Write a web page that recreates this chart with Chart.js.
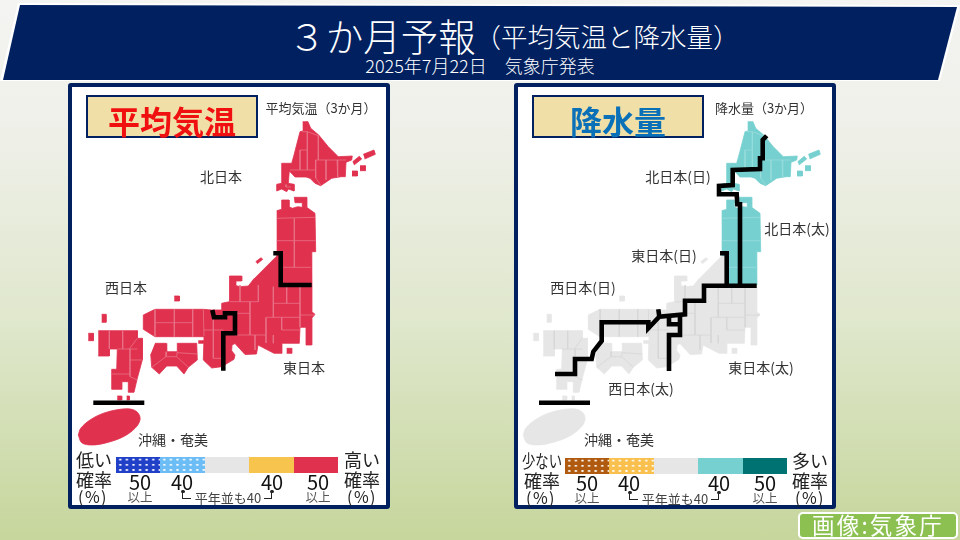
<!DOCTYPE html>
<html lang="ja"><head><meta charset="utf-8">
<script src="https://cdn.jsdelivr.net/npm/chart.js@4/dist/chart.umd.js"></script>
<style>
html,body{margin:0;padding:0;width:960px;height:540px;overflow:hidden}
body{position:relative;background:linear-gradient(180deg,#f4f4f2 0%,#eef0e8 25%,#dfe7cc 60%,#c6d69c 100%);font-family:"Noto Sans CJK JP","Noto Sans",sans-serif}
#banner,#bannerIn{position:absolute}
#banner{left:0;top:3px;width:960px;height:80px;background:#fff;clip-path:polygon(18px 0,960px 2px,940px 78px,0 78px)}
#bannerIn{left:0;top:5px;width:960px;height:76px;background:#002060;clip-path:polygon(20px 0,957px 2px,938px 75px,3px 75px)}
.panel{position:absolute;top:83px;width:314px;height:418px;background:#fff;border:4px solid #002060;border-radius:3px}
.head{position:absolute;top:95px;width:168px;height:39px;background:#f0e0a8;border:2px solid #002060}
canvas{position:absolute;top:84px}
.t{position:absolute;white-space:nowrap;transform:translate(-50%,-50%);line-height:1;color:#333}
.seg{position:absolute}
.dots{background-size:6.6px 5.2px;background-position:1px 0}
.arr{position:absolute;border-bottom:1.5px solid #222}
.dot{position:absolute;width:3.5px;height:3.5px;border-radius:50%;background:#222}
#credit{position:absolute;left:798px;top:512px;width:156px;height:23px;background:#8cc152;border:2px solid #fff;border-radius:5px}
</style></head><body>
<div id="banner"></div><div id="bannerIn"></div>
<div class="panel" style="left:68px"></div>
<div class="panel" style="left:514px"></div>
<div class="head" style="left:86px"></div>
<div class="head" style="left:532px"></div>
<canvas id="tempMap" width="322" height="424" style="left:68px"></canvas>
<canvas id="rainMap" width="322" height="424" style="left:513px"></canvas>
<div id="credit"></div>
<script>
// Map outlines, in map units
const hokkaido=[[302.7,121.7],[308,121.7],[310.7,128.3],[318.7,135],[328.3,146.7],[338.3,156.7],[352.3,156],[351.7,160],[346,162.3],[345.3,176.7],[341,176.7],[331.7,178.3],[320.7,185.7],[315,183.3],[310,178.3],[306,177],[295,177],[289.3,171],[288.3,183.3],[294,184.3],[294,191],[288.3,189],[286.7,191.7],[281.7,189],[276.7,191],[276.7,184.3],[281.7,183.3],[281.7,163.3],[291.7,163.3],[294,155],[300,131.7],[302.7,131]];
const kuril1=[[363.3,154.3],[374,150],[375.3,154.3],[364.7,159]];
const kuril2=[[352.7,161.7],[359.3,156.3],[361.7,159],[354,165]];
const kuril3=[[360,165.7],[365.3,165.7],[365.3,170.7],[360,170.7]];
const kuril4=[[352,171],[357.3,171],[357.3,176],[352,176]];
const tohoku=[[276.7,210.7],[281.7,209.3],[281.7,200],[289,200],[289,206.7],[292.3,208.3],[297.7,206.7],[302.3,207.3],[302.3,202.7],[295,202.7],[294.3,197.3],[306.7,197.3],[306.7,207.3],[315,213.3],[315.7,251.7],[311,251.7],[311.7,285],[281.7,285],[281.7,255.7],[276.7,255.7]];
const honshu=[[276.7,255.7],[281.7,255.7],[281.7,285],[311.7,285],[311.7,311.7],[315,314.3],[311.7,318.3],[311.7,345],[306,345],[306,327.3],[300,327.3],[299.3,343.3],[281.7,343.3],[281.7,353.3],[274,353.3],[258,345],[256.5,354],[245,354.5],[235,343.5],[232,345],[231.7,350.7],[235,355],[234,359.3],[221.7,366.7],[211.7,368],[203.3,360],[204,336.7],[155,336.7],[143.3,329.3],[143.3,315],[155,309.3],[203.3,309.3],[211.7,310],[221.7,310],[221.7,303.3],[229.3,301.7],[230,291.7],[229,276],[241.7,276],[241.7,281],[235.7,281],[235.7,285.5],[240,286.7],[248.3,286],[254.3,278.3]];
const sado=[[255.7,261.7],[261,257.7],[262.7,259.3],[257.3,263.7]];
const oki=[[174.3,296],[179.3,296],[179.3,301],[174.3,301]];
const awaji=[[198.3,340.7],[203.3,340.7],[203.3,343.3],[198.3,343.3]];
const izu=[[286.7,348.3],[291.7,348.3],[291.7,353.3],[286.7,353.3]];
const shikoku=[[155,343.3],[166,343.3],[166.7,351.7],[177.3,351.7],[177.3,343.3],[196.7,343.3],[197.3,360],[188.3,367.3],[184,374],[176.7,366],[166.7,366],[159.3,374],[151.7,367.3],[150.7,354]];
const kyushu=[[98.3,330.7],[137.3,330.7],[137.3,338.3],[142.3,338.3],[142.3,360],[137.3,378.3],[134,392.3],[128.3,392.3],[128.3,381.7],[121.7,381.7],[121.7,389.3],[111.7,389.3],[111.7,369.3],[116.7,369.3],[117.3,349],[109.3,349],[109.3,356],[98.3,356]];
const tsushima=[[101.7,314.3],[106,314.3],[106,322.3],[101.7,322.3]];
const iki=[[88.3,333.3],[93.3,333.3],[93.3,340.7],[88.3,340.7]];
const tane=[[117.3,396],[121.7,396],[121.7,400],[117.3,400]];
const yaku=[[126.7,396],[129.3,396],[129.3,400],[126.7,400]];
const okinawa=[[78.3,435],[80.7,428.3],[90,420],[103.3,413.3],[120,409.3],[131.7,409.3],[138.3,413.3],[140,420],[135,428.3],[123.3,436.7],[106.7,442.7],[91.7,445],[81.7,442.7],[78.3,435]];

// Prefecture boundaries (null breaks the line)
const northLines=[[302,131.7],[307.3,131.7],[318.3,135.7],[318.3,160],null,[307.3,131.7],[307.3,170],null,[300,150],[307.3,150],null,[300,150],[300,170],null,[290,170],[315.7,170],null,[315.7,160],[346,160],null,[315.7,160],[315.7,178],[320.7,185],null,[326,160],[326,180],null,[337,160],[337.7,177],null,[286,184.5],[286,187],[291,187]];
const tohokuLines=[[276.7,218.3],[315,217.3],null,[294.3,218.3],[294.3,267.3],null,[276.7,240.7],[315.7,240.7],null,[283.3,267.3],[311,267.3]];
const honshuLines=[[240,285],[240,301.7],null,[258.3,285],[258.3,301.7],null,[230,301.7],[258.3,301.7],null,[250,301.7],[250,335],null,[273.3,286.7],[273.3,317.3],null,[286.7,286],[286.7,303.3],null,[300,286],[300,327.3],null,[273.3,303.3],[300,303.3],null,[266.7,317.3],[300,317.3],null,[300,315],[315,315],null,[266,317.3],[266,343],null,[281.7,317.3],[281.7,330],[300,330],null,[235,335],[266,335],null,[255,335],[255,350],null,[273.3,335],[273.3,343.3],null,[230,313.3],[250,313.3],null,[155,309.3],[155,336.7],null,[174.3,309.3],[174.3,336.7],null,[192.7,309.3],[192.7,336.7],null,[155,322.7],[193.3,322.7],null,[203.3,309.3],[204,336],null,[204,330],[223.3,330],null,[213.3,317],[213.3,358.3],[225,358.3]];
const shikokuLines=[[151.7,367.3],[166,356.7],[176.7,356.7],[188.3,367.3],null,[177.3,352.7],[197.3,354],null,[166.7,351.7],[166,356.7],null,[177.3,351.7],[176.7,356.7]];
const kyushuLines=[[109.3,330.7],[109.3,349],null,[122.7,330.7],[122.7,349],null,[117.3,349],[137.3,349],null,[137.3,338.3],[129.3,349],null,[130,349],[130,376.7],[137.3,380],null,[130,360],[142.3,360],null,[111.7,374],[130,374]];

// Forecast divider lines
const eastLine=[[273.3,253.3],[280.7,253.3],[280.7,285],[311.7,285]];
const westLine=[[212.3,310],[214,317.3],[225,317.3],[225,313.3],[235,313.3],[235,333.3],[223.3,333.3],[223.3,370.7]];
const islandLine=[[93.3,402.7],[144.3,402.7]];
const rainNorthLine=[[321.7,135.7],[317.7,140],[317.7,158.3],[315,158.3],[315,169],[287.7,170],[287.7,185],[274,186],[274,194.3],[291.7,194.3],[292.3,204.3],[295,204.3],[295,285.7]];
const rainEastBranch=[[275,253.3],[281.7,253.3],[281.7,285.7]];
const rainMainLine=[[311.7,285.7],[259,285.7],[259,300.7],[240,300.7],[240,314.3],[214.3,316.7],[203.3,328.3],[203.3,322.3],[156.7,322.3],[156.7,341],[148.3,351.7],[146.7,359],[130,359],[130,374],[110,374]];
const rainStub=[[213.3,309.3],[214.3,316.7]];
const rainCentralLine=[[224,315.7],[224,324.3],[235,324.3],null,[235,314.3],[235,335],[224,335],[224,371]];
const rainIslandLine=[[94,402.7],[145,402.7]];

// Forecast classes for each area
const landShapes=[hokkaido,kuril1,kuril2,kuril3,kuril4,tohoku,honshu,sado,oki,awaji,izu,shikoku,kyushu,tsushima,iki,tane,yaku,okinawa];
const tempClass=['high50','high50','high50','high50','high50','high50','high50','high50','high50','high50','high50','high50','high50','high50','high50','high50','high50','high50'];
const rainClass=['wet40','wet40','wet40','wet40','wet40','wet40','normal','normal','normal','normal','normal','normal','normal','normal','normal','normal','normal','normal'];
const lineShapes=[northLines,tohokuLines,honshuLines,shikokuLines,kyushuLines];
const tempLineClass=['high50','high50','high50','high50','high50'];
const rainLineClass=['wet40','wet40','normal','normal','normal'];
const fills={high50:'#e0314f',wet40:'#77d0d0',normal:'#e6e6e6'};
const strokes={high50:'#e97488',wet40:'#98dcdc',normal:'#d6d6d6'};

const pts=a=>a.map(p=>p?{x:p[0],y:p[1]}:{x:null,y:null});
function mapChart(id,shapes,cls,lines,lineCls,dividers){
  const ds=[];
  dividers.forEach(d=>ds.push({data:pts(d),showLine:true,borderColor:'#000',borderWidth:4.6,pointRadius:0,fill:false,borderJoinStyle:'miter'}));
  lines.forEach((l,i)=>ds.push({data:pts(l),showLine:true,borderColor:strokes[lineCls[i]],borderWidth:0.8,pointRadius:0,fill:false}));
  shapes.forEach((s,i)=>ds.push({data:pts(s),showLine:true,borderColor:fills[cls[i]],backgroundColor:fills[cls[i]],borderWidth:0.8,pointRadius:0,fill:'shape',tension:s===okinawa?0.35:0}));
  new Chart(document.getElementById(id),{type:'scatter',data:{datasets:ds},options:{
    responsive:false,animation:false,devicePixelRatio:1,layout:{padding:0},
    plugins:{legend:{display:false},tooltip:{enabled:false}},
    scales:{x:{type:'linear',display:false,min:68,max:390},y:{type:'linear',display:false,reverse:true,min:84,max:508}}
  }});
}
mapChart('tempMap',landShapes,tempClass,lineShapes,tempLineClass,[eastLine,westLine,islandLine]);
mapChart('rainMap',landShapes,rainClass,lineShapes,rainLineClass,[rainNorthLine,rainEastBranch,rainMainLine,rainStub,rainCentralLine,rainIslandLine]);

// Text and legend
function t(s,x,y,size,color,extra){const d=document.createElement('div');d.className='t';d.textContent=s;d.style.cssText=`left:${x}px;top:${y}px;font-size:${size}px;color:${color||'#333'};${extra||''}`;document.body.appendChild(d);return d;}
function box(cls,x,y,w,h,css){const d=document.createElement('div');d.className=cls;d.style.cssText=`left:${x}px;top:${y}px;`+(w?`width:${w}px;height:${h}px;`:'')+(css||'');document.body.appendChild(d);}
t('３か月予報',382,35,37.5,'#fff','font-weight:300');
t('（平均気温と降水量）',607,36,26.5,'#fff','font-weight:300');
t('2025年7月22日　気象庁発表',480,65,18,'#fff','font-weight:300');
t('平均気温',172,120,32,'#f01010','font-weight:700');
t('降水量',618,120,32,'#0a70b8','font-weight:700');
t('平均気温（3か月）',321,107,13);
t('降水量（3か月）',764,107,13);
[['北日本',221,176],['西日本',126,287],['東日本',304,367],['沖縄・奄美',173,439],
 ['北日本(日)',678,176],['北日本(太)',797,228],['東日本(日)',664,255],['西日本(日)',583,287],['東日本(太)',761,367],['西日本(太)',641,388],['沖縄・奄美',619,439]]
 .forEach(a=>t(a[0],a[1],a[2],14));
const legends=[
 {off:0,low:'低い',high:'高い',lx:94,hx:362,cols:['#2040c8','#6cbdf5','#e6e6e6','#f7c44d','#e0314f'],bar:116},
 {off:447,low:'少ない',high:'多い',lx:95,hx:363,cols:['#b05a10','#f9c04e','#e6e6e6','#77d0d0','#007272'],bar:118}];
legends.forEach(L=>{
  const o=L.off;
  L.cols.forEach((c,i)=>{
    const dots=i<2?`background-color:${c};background-image:radial-gradient(circle,#fff 0.9px,transparent 1.3px);`:`background:${c};`;
    box('seg'+(i<2?' dots':''),L.bar+o+i*44.4,457+(o?1:0),0,0,`width:44.5px;height:15.5px;${dots}`);
  });
  const dy=o?1:0;
  t(L.low,L.lx+o,459+dy,18,'#222',o?'transform:translate(-50%,-50%) scaleX(.74)':'');t('確率',L.lx+o,479+dy,18,'#222');t('(%)',L.lx+o-1,496+dy,16,'#222','letter-spacing:1.5px');
  t(L.high,L.hx+o,459+dy,18,'#222');t('確率',L.hx+o,479+dy,18,'#222');t('(%)',L.hx+o,496+dy,16,'#222','letter-spacing:1.5px');
  t('50',140+o,482+dy,20,'#111');t('40',182+o,482+dy,20,'#111');t('40',272+o,482+dy,20,'#111');t('50',318+o,482+dy,20,'#111');
  t('以上',140+o,497+dy,12.5,'#555');t('以上',318+o,497+dy,12.5,'#555');
  t('平年並も40',228+o,497+dy,13,'#444');
  box('dot',181+o,489.5+dy,0,0,'');box('dot',270+o,489.5+dy,0,0,'');
  box('arr',182+o,491+dy,8,6.5,'border-left:1.5px solid #222');
  box('arr',264+o,491+dy,7,6.5,'border-right:1.5px solid #222');
});
t('画像:気象庁',878,524,22.5,'#fff','letter-spacing:2.2px');
</script>
</body></html>
